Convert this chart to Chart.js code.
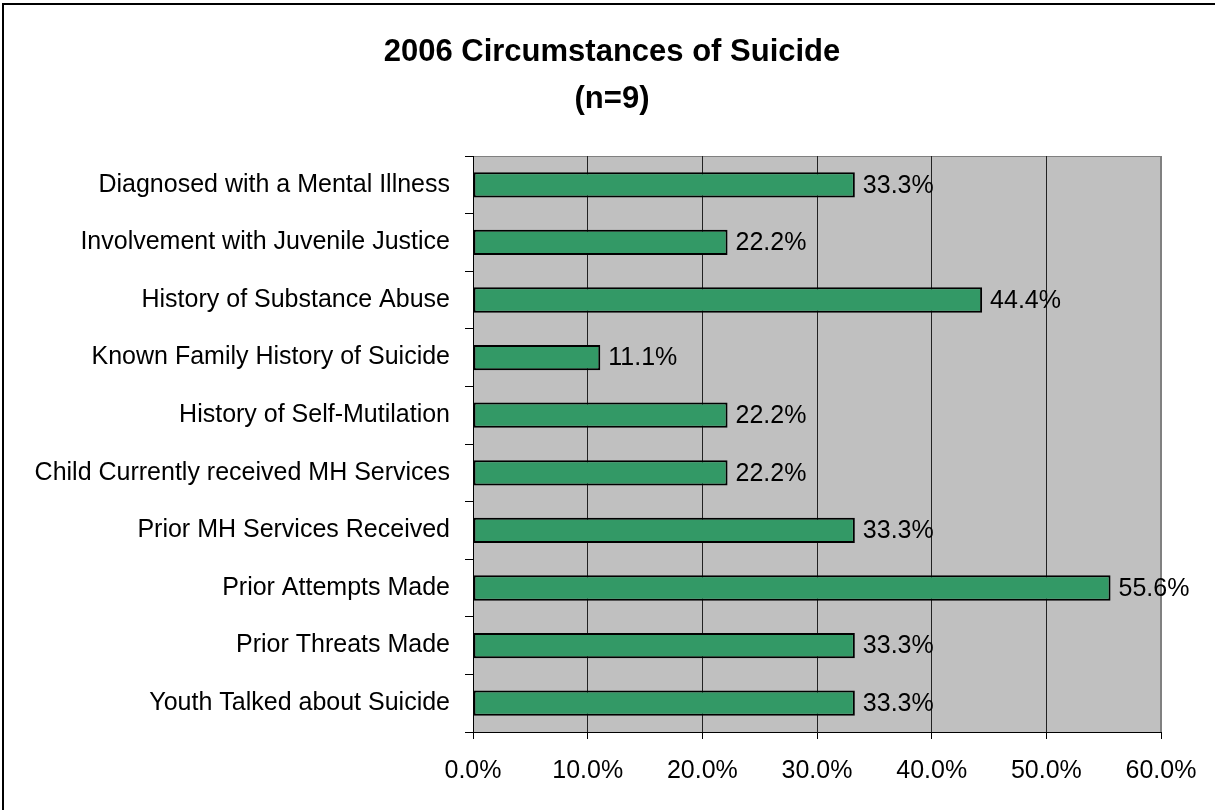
<!DOCTYPE html>
<html>
<head>
<meta charset="utf-8">
<title>2006 Circumstances of Suicide</title>
<script src="https://cdn.jsdelivr.net/npm/chart.js@4/dist/chart.umd.min.js"></script>
<style>
  html, body { margin: 0; padding: 0; background: #fff; }
  #wrap { width: 1215px; height: 810px; position: relative; }
</style>
</head>
<body>
<div id="wrap"><canvas id="chart" width="1215" height="810"></canvas></div>
<script>
// ── Data ────────────────────────────────────────────────────────────────────

const categories = [
  "Diagnosed with a Mental Illness",
  "Involvement with Juvenile Justice",
  "History of Substance Abuse",
  "Known Family History of Suicide",
  "History of Self-Mutilation",
  "Child Currently received MH Services",
  "Prior MH Services Received",
  "Prior Attempts Made",
  "Prior Threats Made",
  "Youth Talked about Suicide",
];
const percentValues = [33.3, 22.2, 44.4, 11.1, 22.2, 22.2, 33.3, 55.6, 33.3, 33.3];
const xTicks = [0, 10, 20, 30, 40, 50, 60];
const titleLines = ["2006 Circumstances of Suicide", "(n=9)"];

const FONT = "'Liberation Sans', Arial, sans-serif";

// ── Plugins ─────────────────────────────────────────────────────────────────

// outer frame, title and grey plot background
const frame = {
  id: "frame",
  beforeDraw(chart) {
    const { ctx, chartArea: a } = chart;
    ctx.save();
    ctx.strokeStyle = "#000";
    ctx.lineWidth = 2;
    ctx.strokeRect(3, 4, 1300, 900);

    // title (centred a little right of the canvas middle, as in the original)
    ctx.fillStyle = "#000";
    ctx.font = `bold 31px ${FONT}`;
    ctx.textAlign = "center";
    ctx.textBaseline = "middle";
    titleLines.forEach((t, i) => ctx.fillText(t, 612, 52 + i * 47));

    ctx.fillStyle = "#c0c0c0";
    ctx.fillRect(a.left, a.top, a.right - a.left, a.bottom - a.top);
    ctx.strokeStyle = "#808080";
    ctx.lineWidth = 1;
    ctx.strokeRect(a.left + 0.5, a.top + 0.5, a.right - a.left - 1, a.bottom - a.top);
    ctx.restore();
  }
};

// value labels right of each bar
const valueLabels = {
  id: "valueLabels",
  afterDatasetsDraw(chart) {
    const { ctx } = chart;
    const meta = chart.getDatasetMeta(0);
    ctx.save();
    ctx.font = `25px ${FONT}`;
    ctx.fillStyle = "#000";
    ctx.textAlign = "left";
    ctx.textBaseline = "middle";
    meta.data.forEach((bar, i) => {
      ctx.fillText(percentValues[i].toFixed(1) + "%", bar.x + 8, bar.y + 1);
    });
    ctx.restore();
  }
};

// ── Chart ───────────────────────────────────────────────────────────────────

new Chart(document.getElementById("chart"), {
  type: "bar",
  data: {
    labels: categories,
    datasets: [{
      data: percentValues,
      backgroundColor: "#339966",
      borderColor: "#000",
      borderWidth: 2,
      borderSkipped: false,
      barPercentage: 1,
      categoryPercentage: 0.44,
    }]
  },
  options: {
    indexAxis: "y",
    responsive: false,
    animation: false,
    devicePixelRatio: 1,
    layout: { padding: { left: 0, right: 54, top: 156, bottom: 0 } },
    plugins: {
      legend: { display: false },
      tooltip: { enabled: false },
      title: { display: false },
    },
    scales: {
      x: {
        type: "linear",
        min: 0,
        max: 60,
        afterBuildTicks: s => { s.ticks = xTicks.map(v => ({ value: v })); },
        afterFit: s => { s.height = 810 - 732; },
        ticks: {
          color: "#000",
          font: { family: FONT, size: 25 },
          padding: 17,
          callback: v => v.toFixed(1) + "%",
        },
        grid: {
          color: ctx => (ctx.tick && ctx.tick.value === 60) ? "#808080" : "#222",
          lineWidth: 1,
          tickLength: 7,
          tickColor: "#000",
        },
        border: { color: "#000", width: 1 },
      },
      y: {
        afterFit: s => { s.width = 473; },
        ticks: {
          color: "#000",
          font: { family: FONT, size: 25 },
          padding: 15,
        },
        grid: {
          offset: true,
          drawOnChartArea: false,
          tickLength: 8,
          tickColor: "#000",
        },
        border: { color: "#000", width: 1 },
      },
    },
  },
  plugins: [frame, valueLabels],
});
</script>
</body>
</html>
